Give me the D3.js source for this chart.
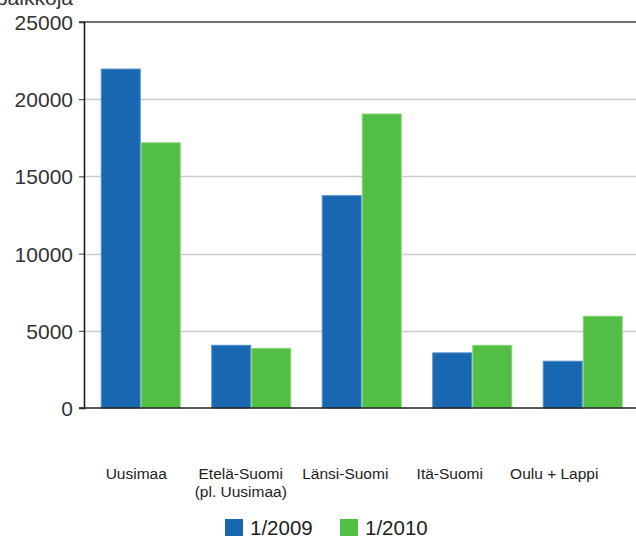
<!DOCTYPE html>
<html lang="fi">
<head>
    <meta charset="UTF-8">
    <title>Avoimet paikat</title>
    <script src="https://d3js.org/d3.v7.min.js"></script>
    <style>
        html, body { margin: 0; padding: 0; background: #fff; }
        svg { display: block; font-family: "Liberation Sans", Arial, sans-serif; }
    </style>
</head>
<body>
    <div id="chart"></div>

    <script>
        // data
        const regions = ["Uusimaa", "Etelä-Suomi\n(pl. Uusimaa)", "Länsi-Suomi", "Itä-Suomi", "Oulu + Lappi"];
        const seriesNames = ["1/2009", "1/2010"];
        const values2009 = [21950, 4060, 13750, 3570, 3030];
        const values2010 = [17180, 3860, 19040, 4060, 5940];
        const yTicks = [0, 5000, 10000, 15000, 20000, 25000];
        const colors = ["#1967b0", "#53be44"];
        const strokes = ["#4d8ccc", "#86d67a"];

        const width = 636, height = 538;
        const plot = { left: 84, right: 638, top: 22, bottom: 408 };

        const svg = d3.select("#chart").append("svg")
            .attr("width", width)
            .attr("height", height);

        const y = d3.scaleLinear().domain([0, 25000]).range([plot.bottom, plot.top]);

        const x = d3.scaleBand()
            .domain(regions)
            .range([plot.left + 1.5, plot.right])
            .paddingInner(0.276)
            .paddingOuter(0.138);

        const xInner = d3.scaleBand().domain(seriesNames).range([0, x.bandwidth()]);

        // labels sit a bit tighter than the bars in the original
        const xLabel = d3.scaleBand().domain(regions).range([84, 606.5]);

        // gridlines
        svg.append("g")
            .selectAll("line")
            .data(yTicks.filter(d => d > 0 && d < 25000))
            .enter().append("line")
            .attr("x1", plot.left)
            .attr("x2", width)
            .attr("y1", d => Math.round(y(d)) + 0.5)
            .attr("y2", d => Math.round(y(d)) + 0.5)
            .attr("stroke", "#cccccc")
            .attr("stroke-width", 1.5);

        // bars
        const rows = regions.map((r, i) => ({ region: r, vals: [values2009[i], values2010[i]] }));
        const groups = svg.append("g")
            .selectAll("g")
            .data(rows)
            .enter().append("g")
            .attr("transform", d => `translate(${x(d.region)},0)`);

        groups.selectAll("rect")
            .data(d => d.vals.map((v, k) => ({ key: seriesNames[k], v: v, k: k })))
            .enter().append("rect")
            .attr("x", d => xInner(d.key) + 0.5)
            .attr("y", d => y(d.v))
            .attr("width", xInner.bandwidth() - 1)
            .attr("height", d => y(0) - y(d.v))
            .attr("fill", d => colors[d.k])
            .attr("stroke", d => strokes[d.k])
            .attr("stroke-width", 1);

        // top frame line and baseline
        svg.append("line")
            .attr("x1", plot.left - 5).attr("x2", width)
            .attr("y1", y(25000)).attr("y2", y(25000))
            .attr("stroke", "#444").attr("stroke-width", 1.5);

        svg.append("line")
            .attr("x1", plot.left - 5).attr("x2", width)
            .attr("y1", y(0)).attr("y2", y(0))
            .attr("stroke", "#222").attr("stroke-width", 1.5);

        // y axis
        const yAxis = svg.append("g")
            .attr("transform", `translate(${plot.left},0)`)
            .call(d3.axisLeft(y).tickValues(yTicks).tickSize(5).tickPadding(6).tickFormat(d3.format("d")));
        yAxis.select(".domain").attr("stroke", "#111").attr("stroke-width", 1.5);
        yAxis.selectAll(".tick line").attr("stroke", "#333");
        yAxis.selectAll(".tick text")
            .attr("font-size", 21)
            .attr("fill", "#333")
            .attr("dy", "0.36em");

        svg.append("text")
            .attr("x", 73)
            .attr("y", 5)
            .attr("text-anchor", "end")
            .attr("font-size", 21)
            .attr("fill", "#333")
            .text("paikkoja");

        // category labels
        const labels = svg.append("g")
            .selectAll("text")
            .data(regions)
            .enter().append("text")
            .attr("x", d => xLabel(d) + xLabel.bandwidth() / 2)
            .attr("y", 479)
            .attr("text-anchor", "middle")
            .attr("font-size", 15.5)
            .attr("fill", "#222");
        labels.each(function (d) {
            const lines = d.split("\n");
            d3.select(this).selectAll("tspan")
                .data(lines)
                .enter().append("tspan")
                .attr("x", xLabel(d) + xLabel.bandwidth() / 2)
                .attr("dy", (l, i) => i === 0 ? 0 : 18)
                .text(l => l);
        });

        // legend
        const legendX = [225, 340];
        const legend = svg.append("g")
            .selectAll("g")
            .data(seriesNames)
            .enter().append("g")
            .attr("transform", (d, i) => `translate(${legendX[i]},519)`);
        legend.append("rect")
            .attr("width", 18).attr("height", 17)
            .attr("fill", (d, i) => colors[i]);
        legend.append("text")
            .attr("x", 25)
            .attr("y", 16)
            .attr("font-size", 20.5)
            .attr("fill", "#222")
            .text(d => d);
    </script>
</body>
</html>
